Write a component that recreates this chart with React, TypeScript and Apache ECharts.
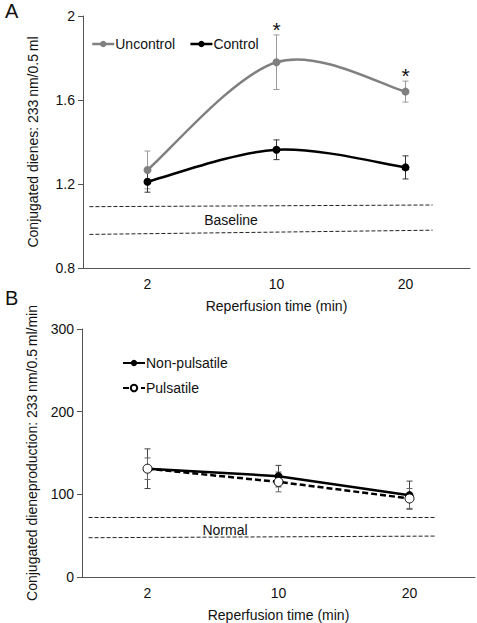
import React, { useEffect, useRef } from "react";
import * as echarts from "echarts";

const categories = ["2", "10", "20"];

const uncontrolValues = [1.267, 1.78, 1.64];
const uncontrolErr = [0.09, 0.13, 0.05];
const controlValues = [1.211, 1.363, 1.279];
const controlErr = [0.05, 0.047, 0.055];
const sigMarksA = ["", "*", "*"];
const baselineUpper = [[-0.45, 1.092], [2.21, 1.1]];
const baselineLower = [[-0.45, 0.96], [2.21, 0.98]];

const nonPulsatileValues = [131, 122, 99];
const nonPulsatileErr = [24, 13, 17];
const pulsatileValues = [131, 115, 95];
const pulsatileErr = [13, 12, 12];
const normalUpper = [[-0.45, 72], [2.2, 72]];
const normalLower = [[-0.45, 47.5], [2.2, 49.5]];

const FONT = "'Liberation Sans', Arial, Helvetica, sans-serif";

function errData(vals: number[], errs: number[]) {
  return vals.map((v, i) => [i, v - errs[i], v + errs[i]]);
}

function errRender(color: string, sig: string[] | null) {
  return (params: any, api: any) => {
    const i = api.value(0);
    const lo = api.coord([i, api.value(1)]);
    const hi = api.coord([i, api.value(2)]);
    const cw = 3;
    const style = { stroke: color, lineWidth: 1 };
    const children: any[] = [
      { type: "line", shape: { x1: lo[0], y1: lo[1], x2: hi[0], y2: hi[1] }, style },
      { type: "line", shape: { x1: lo[0] - cw, y1: lo[1], x2: lo[0] + cw, y2: lo[1] }, style },
      { type: "line", shape: { x1: hi[0] - cw, y1: hi[1], x2: hi[0] + cw, y2: hi[1] }, style },
    ];
    if (sig && sig[params.dataIndex]) {
      children.push({
        type: "text",
        style: {
          text: sig[params.dataIndex],
          x: hi[0],
          y: hi[1] + 5,
          align: "center",
          verticalAlign: "bottom",
          fontSize: 21,
          fontFamily: FONT,
          fill: "#111",
        },
      });
    }
    return { type: "group", children };
  };
}

// Catmull-Rom style smooth segment between point i and i+1
function curveRender(values: number[], color: string, width: number) {
  return (params: any, api: any) => {
    const i = params.dataIndex;
    if (i >= values.length - 1) return null;
    const p = (j: number) => {
      const k = Math.max(0, Math.min(values.length - 1, j));
      return api.coord([k, values[k]]);
    };
    const p0 = p(i - 1), p1 = p(i), p2 = p(i + 1), p3 = p(i + 2);
    const cp1 = [p1[0] + (p2[0] - p0[0]) / 6, p1[1] + (p2[1] - p0[1]) / 6];
    const cp2 = [p2[0] - (p3[0] - p1[0]) / 6, p2[1] - (p3[1] - p1[1]) / 6];
    return {
      type: "bezierCurve",
      shape: { x1: p1[0], y1: p1[1], cpx1: cp1[0], cpy1: cp1[1], cpx2: cp2[0], cpy2: cp2[1], x2: p2[0], y2: p2[1] },
      style: { stroke: color, lineWidth: width, fill: "none" },
    };
  };
}

const axisCommon = {
  axisLine: { onZero: false, lineStyle: { color: "#555", width: 1 } },
  axisTick: { lineStyle: { color: "#555" }, length: 5 },
  axisLabel: { color: "#111", fontSize: 14, fontFamily: FONT },
  splitLine: { show: false },
  nameTextStyle: { color: "#111", fontSize: 14, fontFamily: FONT },
};

export default function App() {
  const ref = useRef<HTMLDivElement>(null);
  useEffect(() => {
    if (!ref.current) return;
    const chart = echarts.init(ref.current, null, { renderer: "svg" });
    const dashStyle = { color: "#222", width: 1, type: [4, 2] as any };
    chart.setOption({
      animation: false,
      backgroundColor: "#fff",
      textStyle: { fontFamily: FONT },
      grid: [
        { left: 83, top: 16, width: 387, height: 252 },
        { left: 82, top: 329, width: 393, height: 250 },
      ],
      xAxis: [
        {
          ...axisCommon,
          type: "category",
          gridIndex: 0,
          data: categories,
          boundaryGap: true,
          name: "Reperfusion time (min)",
          nameLocation: "middle",
          nameGap: 31,
          axisLabel: { ...axisCommon.axisLabel, margin: 9 },
        },
        {
          ...axisCommon,
          type: "category",
          gridIndex: 1,
          data: categories,
          boundaryGap: true,
          name: "Reperfusion time (min)",
          nameLocation: "middle",
          nameGap: 31,
          axisLabel: { ...axisCommon.axisLabel, margin: 9 },
        },
        { type: "value", gridIndex: 0, min: -0.5, max: 2.5, show: false },
        { type: "value", gridIndex: 1, min: -0.5, max: 2.5, show: false },
      ],
      yAxis: [
        {
          ...axisCommon,
          type: "value",
          gridIndex: 0,
          min: 0.8,
          max: 2,
          interval: 0.4,
          axisLine: { show: true, onZero: false, lineStyle: { color: "#555" } },
          axisTick: { show: true, length: 5, lineStyle: { color: "#555" } },
          axisLabel: {
            ...axisCommon.axisLabel,
            formatter: (v: number) => String(Math.round(v * 10) / 10),
          },
          name: "Conjugated dienes: 233\u2009nm/0.5\u2009ml",
          nameLocation: "middle",
          nameGap: 43,
        },
        {
          ...axisCommon,
          type: "value",
          gridIndex: 1,
          min: 0,
          max: 300,
          interval: 100,
          axisLine: { show: true, onZero: false, lineStyle: { color: "#555" } },
          axisTick: { show: true, length: 5, lineStyle: { color: "#555" } },
          name: "Conjugated dieneproduction: 233\u2009nm/0.5\u2009ml/min",
          nameLocation: "middle",
          nameGap: 43,
        },
      ],
      legend: [
        {
          data: ["Uncontrol", "Control"],
          left: 86,
          top: 32,
          itemWidth: 22,
          itemHeight: 8,
          itemGap: 14,
          lineStyle: { width: 2.5, opacity: 1 },
          textStyle: { fontSize: 14, color: "#111", fontFamily: FONT, padding: [0, 0, 0, -4] },
        },
        {
          data: ["Non-pulsatile", "Pulsatile"],
          orient: "vertical",
          left: 117,
          top: 351,
          itemWidth: 22,
          itemHeight: 8,
          itemGap: 11,
          textStyle: { fontSize: 14, color: "#111", fontFamily: FONT, padding: [0, 0, 0, -4] },
        },
      ],
      series: [
        {
          type: "custom",
          name: "errU",
          xAxisIndex: 0,
          yAxisIndex: 0,
          z: 1,
          renderItem: errRender("#999", sigMarksA),
          data: errData(uncontrolValues, uncontrolErr),
        },
        {
          type: "custom",
          name: "errC",
          xAxisIndex: 0,
          yAxisIndex: 0,
          z: 1,
          renderItem: errRender("#333", null),
          data: errData(controlValues, controlErr),
        },
        {
          type: "custom",
          name: "curveU",
          xAxisIndex: 0,
          yAxisIndex: 0,
          z: 2,
          renderItem: curveRender(uncontrolValues, "#808080", 2.5),
          data: uncontrolValues.map((v, i) => [i, v]),
        },
        {
          type: "custom",
          name: "curveC",
          xAxisIndex: 0,
          yAxisIndex: 0,
          z: 2,
          renderItem: curveRender(controlValues, "#000", 2.5),
          data: controlValues.map((v, i) => [i, v]),
        },
        {
          type: "line",
          name: "Uncontrol",
          xAxisIndex: 0,
          yAxisIndex: 0,
          z: 3,
          data: uncontrolValues,
          symbol: "circle",
          symbolSize: 8,
          itemStyle: { color: "#808080" },
          lineStyle: { color: "#808080", width: 2.5, opacity: 0 },
        },
        {
          type: "line",
          name: "Control",
          xAxisIndex: 0,
          yAxisIndex: 0,
          z: 3,
          data: controlValues,
          symbol: "circle",
          symbolSize: 8,
          itemStyle: { color: "#000" },
          lineStyle: { color: "#000", width: 2.5, opacity: 0 },
        },
        {
          type: "line",
          name: "baselineUpper",
          xAxisIndex: 2,
          yAxisIndex: 0,
          data: baselineUpper,
          symbol: "none",
          lineStyle: dashStyle,
        },
        {
          type: "line",
          name: "baselineLower",
          xAxisIndex: 2,
          yAxisIndex: 0,
          data: baselineLower,
          symbol: "none",
          lineStyle: dashStyle,
        },
        {
          type: "custom",
          name: "errNP",
          xAxisIndex: 1,
          yAxisIndex: 1,
          z: 1,
          renderItem: errRender("#444", null),
          data: errData(nonPulsatileValues, nonPulsatileErr),
        },
        {
          type: "custom",
          name: "errP",
          xAxisIndex: 1,
          yAxisIndex: 1,
          z: 1,
          renderItem: errRender("#666", null),
          data: errData(pulsatileValues, pulsatileErr),
        },
        {
          type: "line",
          name: "Non-pulsatile",
          xAxisIndex: 1,
          yAxisIndex: 1,
          z: 3,
          data: nonPulsatileValues,
          symbol: "circle",
          symbolSize: 8,
          itemStyle: { color: "#000" },
          lineStyle: { color: "#000", width: 2.5 },
        },
        {
          type: "line",
          name: "Pulsatile",
          xAxisIndex: 1,
          yAxisIndex: 1,
          z: 4,
          data: pulsatileValues,
          symbol: "circle",
          symbolSize: 9,
          itemStyle: { color: "#fff", borderColor: "#000", borderWidth: 1 },
          lineStyle: { color: "#000", width: 2.5, type: [6, 3] },
        },
        {
          type: "line",
          name: "normalUpper",
          xAxisIndex: 3,
          yAxisIndex: 1,
          data: normalUpper,
          symbol: "none",
          lineStyle: dashStyle,
        },
        {
          type: "line",
          name: "normalLower",
          xAxisIndex: 3,
          yAxisIndex: 1,
          data: normalLower,
          symbol: "none",
          lineStyle: dashStyle,
        },
      ],
      graphic: [
        { type: "text", left: 5, top: 1, style: { text: "A", fontSize: 20, fontFamily: FONT, fill: "#111" } },
        { type: "text", left: 5, top: 288, style: { text: "B", fontSize: 20, fontFamily: FONT, fill: "#111" } },
        { type: "text", x: 231, y: 220, style: { text: "Baseline", fontSize: 14, fontFamily: FONT, fill: "#111", align: "center", verticalAlign: "middle" } },
        { type: "text", x: 225, y: 530, style: { text: "Normal", fontSize: 14, fontFamily: FONT, fill: "#111", align: "center", verticalAlign: "middle" } },
      ],
    });
    return () => chart.dispose();
  }, []);
  return (
    <div
      ref={ref}
      style={{ position: "fixed", left: 0, top: 0, width: 477, height: 623, background: "#fff" }}
    />
  );
}
